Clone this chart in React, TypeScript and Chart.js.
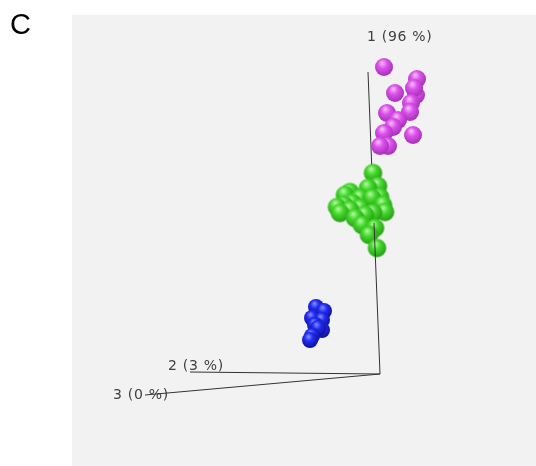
import { useEffect, useRef } from "react";
import { Chart, registerables } from "chart.js";

Chart.register(...registerables);

// Projected PCA coordinates (origin at the axes' meeting point)
const magentaX = [4, 37, 15, 36, 34, 31, 30, 7, 18, 13, 4, 33, 8, 0];
const magentaY = [307, 295, 281, 279, 286, 271, 262, 261, 254, 247, 241, 239, 228, 228];

const greenX = [-7, -2, -12, -30, -35, 0, -20, -8, -28, -36, 3, -43, -20, -30, 5, -40, -7, -15, -25, -18, -5, -11, -3];
const greenY = [201, 188, 186, 182, 179, 177, 176, 176, 171, 169, 169, 167, 166, 164, 162, 161, 161, 159, 156, 149, 146, 139, 126];

const blueX = [-64, -56, -68, -58, -65, -58, -62, -68, -70];
const blueY = [67, 63, 56, 54, 49, 44, 46, 38, 34];

// Axis end points in projected space
const axisEndX = [-12, -190, -235];
const axisEndY = [302, 2, -21];
// part of axis 1 that lies in front of the spheres (fraction of its length)
const axis1FrontFraction = 0.5;
const axisLabels = ["1 (96 %)", "2 (3 %)", "3 (0 %)"];
const labelX = [-13, -212, -267];
const labelY = [337, 8, -21];

const panelLabel = "C";

function makeSphere(r: number, light: string, base: string, dark: string) {
  const c = document.createElement("canvas");
  const size = Math.ceil(r * 2) + 2;
  c.width = size;
  c.height = size;
  const ctx = c.getContext("2d")!;
  const cx = size / 2;
  const cy = size / 2;
  const g = ctx.createRadialGradient(cx - r * 0.2, cy - r * 0.45, 0, cx - r * 0.1, cy - r * 0.2, r * 1.3);
  g.addColorStop(0, light);
  g.addColorStop(0.4, base);
  g.addColorStop(1, dark);
  ctx.fillStyle = g;
  ctx.beginPath();
  ctx.arc(cx, cy, r, 0, Math.PI * 2);
  ctx.fill();
  return c;
}

function zip(xs: number[], ys: number[]) {
  return xs.map((x, i) => ({ x, y: ys[i] }));
}

function axisLine(label: string, data: { x: number; y: number }[]) {
  return {
    type: "line" as const,
    label,
    data,
    borderColor: "#333333",
    borderWidth: 1,
    pointRadius: 0,
    showLine: true,
    fill: false,
  };
}

export default function App() {
  const ref = useRef<HTMLCanvasElement | null>(null);

  useEffect(() => {
    document.body.style.margin = "0";
    const canvas = ref.current!;
    const magenta = makeSphere(9, "#f8c0fc", "#db52ea", "#a02ab2");
    const green = makeSphere(9.3, "#bcf8ac", "#44d82c", "#249414");
    const blue = makeSphere(8, "#8290ff", "#222cf2", "#0c0c90");

    const bgPlugin = {
      id: "panelBg",
      beforeDraw(chart: any) {
        const { ctx, chartArea } = chart;
        ctx.save();
        ctx.fillStyle = "#f2f2f2";
        ctx.fillRect(chartArea.left, chartArea.top, chartArea.right - chartArea.left, chartArea.bottom - chartArea.top);
        ctx.restore();
      },
      beforeDatasetsDraw(chart: any) {
        const { ctx } = chart;
        const xs = chart.scales.x;
        const ys = chart.scales.y;
        ctx.save();
        ctx.fillStyle = "#404040";
        ctx.font = "14px 'DejaVu Sans'";
        (ctx as any).letterSpacing = "0.7px";
        ctx.textBaseline = "middle";
        ctx.textAlign = "left";
        axisLabels.forEach((t, i) => {
          ctx.fillText(t, xs.getPixelForValue(labelX[i]), ys.getPixelForValue(labelY[i]));
        });
        ctx.restore();
      },
      afterDraw(chart: any) {
        const { ctx } = chart;
        ctx.save();
        ctx.fillStyle = "#000000";
        ctx.font = "29px 'Liberation Sans', Arial, sans-serif";
        ctx.textBaseline = "alphabetic";
        ctx.textAlign = "left";
        ctx.fillText(panelLabel, 10, 34);
        ctx.restore();
      },
    };

    const midX = axisEndX[0] * axis1FrontFraction;
    const midY = axisEndY[0] * axis1FrontFraction;

    // first dataset is drawn on top
    const chart = new Chart(canvas, {
      type: "scatter",
      data: {
        datasets: [
          axisLine("axis 1 (front)", [
            { x: 0, y: 0 },
            { x: midX, y: midY },
          ]),
          { label: "magenta", data: zip(magentaX, magentaY), pointStyle: magenta as any, pointRadius: 9 },
          { label: "green", data: zip(greenX, greenY), pointStyle: green as any, pointRadius: 9 },
          { label: "blue", data: zip(blueX, blueY), pointStyle: blue as any, pointRadius: 8 },
          axisLine("axis 1 (back)", [
            { x: midX, y: midY },
            { x: axisEndX[0], y: axisEndY[0] },
          ]),
          axisLine("axis 2", [
            { x: 0, y: 0 },
            { x: axisEndX[1], y: axisEndY[1] },
          ]),
          axisLine("axis 3", [
            { x: 0, y: 0 },
            { x: axisEndX[2], y: axisEndY[2] },
          ]),
        ] as any,
      },
      options: {
        animation: false,
        responsive: false,
        devicePixelRatio: 1,
        layout: { autoPadding: false, padding: { left: 72, top: 15, right: 0, bottom: 0 } },
        plugins: { legend: { display: false }, tooltip: { enabled: false } },
        scales: {
          x: { type: "linear", min: -308, max: 156, display: false },
          y: { type: "linear", min: -92, max: 359, display: false },
        },
      },
      plugins: [bgPlugin],
    });
    return () => chart.destroy();
  }, []);

  return (
    <div style={{ width: 536, height: 466 }}>
      <canvas ref={ref} width={536} height={466} />
    </div>
  );
}
